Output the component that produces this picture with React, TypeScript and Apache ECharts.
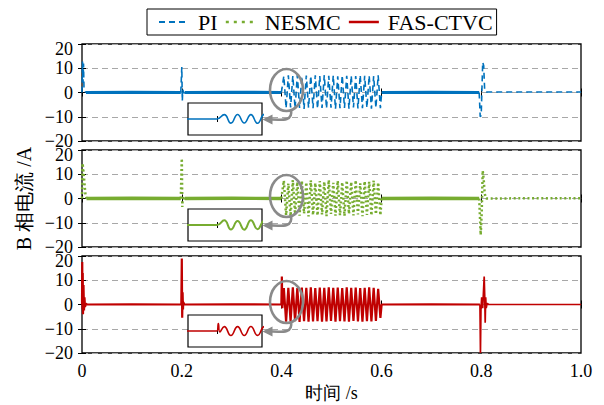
import React, { useEffect, useRef } from 'react';
import * as echarts from 'echarts';

type Pt = [number, number];

const legendNames = ['PI', 'NESMC', 'FAS-CTVC'];
const xTickValues = [0, 0.2, 0.4, 0.6, 0.8, 1.0];
const yTickValues = [-20, -10, 0, 10, 20];
const xTitle = '时间 /s';
const yTitle = 'B 相电流 /A';

// shared oscillation instants (peaks / troughs) between 0.4 s and 0.6 s
const oscT = [
  0.4045, 0.409, 0.4135, 0.418, 0.4225, 0.427, 0.4315, 0.436, 0.4405, 0.445,
  0.4495, 0.454, 0.4585, 0.463, 0.4675, 0.472, 0.4765, 0.481, 0.4855, 0.49,
  0.4945, 0.499, 0.5035, 0.508, 0.5125, 0.517, 0.5215, 0.526, 0.5305, 0.535,
  0.5395, 0.544, 0.5485, 0.553, 0.5575, 0.562, 0.5665, 0.571, 0.5755, 0.58,
  0.5845, 0.589, 0.5935, 0.598,
];

// PI
const piBefore: Pt[] = [
  [0, 0], [0.001, 12.8], [0.002, 4], [0.003, 12], [0.004, 1.5], [0.006, 0.4], [0.008, 0],
  [0.1, 0.1], [0.198, 0],
  [0.2, 10.5], [0.201, -3.5], [0.202, 1.2], [0.204, -0.3], [0.206, 0],
  [0.3, 0.1], [0.3995, 0],
];
const piOsc = [
  6.8, -6.5, 7.1, -6.2, 6.9, -6.6, 7.2, -6.4, 6.7, -6.8, 7.0, -6.3, 6.9, -6.5, 7.1,
  -6.7, 6.8, -6.4, 7.2, -6.6, 6.9, -6.3, 7.0, -6.8, 6.7, -6.5, 7.1, -6.4, 6.9, -6.7,
  7.0, -6.2, 6.8, -6.6, 7.2, -6.5, 6.9, -6.3, 7.0, -6.7, 6.8, -6.4, 7.1, -6.5,
];
const piAfter: Pt[] = [
  [0.6005, 0], [0.7, 0.1], [0.796, 0],
  [0.798, -10], [0.8, -9.5], [0.803, 12.5], [0.805, 11], [0.807, 0.6], [0.81, 0.2],
  [0.9, 0.2], [1.0, 0.2],
];

// NESMC
const nesmcBefore: Pt[] = [
  [0, 0], [0.001, 14.5], [0.002, 13], [0.003, 11], [0.005, 6], [0.007, 1.5], [0.009, 0],
  [0.1, 0.1], [0.198, 0],
  [0.2, 16.5], [0.201, -3.5], [0.202, 1], [0.204, 0], [0.206, 0],
  [0.3, 0.1], [0.3995, 0],
];
const nesmcOsc = [
  7.4, -6.9, 6.2, -7.3, 7.6, -6.5, 6.8, -7.1, 7.3, -6.2, 6.6, -7.4, 7.5, -6.8, 6.4,
  -7.0, 7.2, -6.6, 6.9, -7.3, 7.6, -6.4, 6.5, -7.1, 7.3, -6.9, 6.7, -7.2, 7.4, -6.3,
  6.8, -7.0, 7.5, -6.6, 6.3, -7.3, 7.1, -6.8, 6.9, -7.0, 7.4, -6.5, 6.6, -6.9,
];
const nesmcAfter: Pt[] = [
  [0.6005, 0], [0.7, 0.1], [0.796, 0],
  [0.799, -15], [0.801, -6], [0.803, 11.5], [0.805, 8], [0.807, 2], [0.81, 0],
  [0.9, 0.1], [1.0, 0.1],
];

// FAS-CTVC
const fasBefore: Pt[] = [
  [0, 0], [0.0005, 17.5], [0.001, -2], [0.0015, 13], [0.002, -4], [0.003, 8], [0.004, -2.5],
  [0.005, 3], [0.006, -1], [0.008, 0.4], [0.01, 0],
  [0.1, 0.1], [0.199, 0],
  [0.2, 19], [0.2008, -5.5], [0.2016, 5], [0.2024, -2], [0.203, 1], [0.205, 0],
  [0.3, 0.1], [0.3995, 0], [0.4005, 11.5], [0.4015, -1.5],
];
const fasOsc = [
  6.8, -7.1, 6.9, -7.0, 7.1, -6.9, 6.8, -7.2, 7.0, -6.9, 6.9, -7.1, 7.1, -7.0, 6.8,
  -6.9, 7.0, -7.1, 6.9, -7.0, 7.1, -6.8, 6.9, -7.1, 7.0, -6.9, 6.8, -7.0, 7.1, -7.1,
  6.9, -6.8, 7.0, -7.0, 6.8, -7.1, 6.9, -6.9, 7.1, -7.0, 6.9, -6.8, 6.5, -5.5,
];
const fasAfter: Pt[] = [
  [0.6005, 0], [0.7, 0.1], [0.7975, 0],
  [0.7985, -20], [0.7995, -2], [0.801, 3], [0.803, -1.5], [0.806, 11.5], [0.807, 4],
  [0.808, -7.5], [0.809, 3], [0.81, -1.5], [0.812, 0.5], [0.815, 0], [1.0, 0],
];

const build = (before: Pt[], osc: number[], after: Pt[]): Pt[] => [
  ...before,
  ...oscT.map((t, i) => [t, osc[i]] as Pt),
  ...after,
];

const piData = build(piBefore, piOsc, piAfter);
const nesmcData = build(nesmcBefore, nesmcOsc, nesmcAfter);
const fasData = build(fasBefore, fasOsc, fasAfter);

const BLUE = '#0072BD';
const GREEN = '#77AC30';
const RED = '#C00000';
const GREY = '#8a8a8a';
const SERIF = 'Liberation Serif';

const slice = (d: Pt[], a: number, b: number) =>
  d.filter((p) => p[0] >= a - 1e-9 && p[0] <= b + 1e-9);

export default function App() {
  const ref = useRef<HTMLDivElement>(null);

  useEffect(() => {
    if (!ref.current) return;
    const chart = echarts.init(ref.current, null, { renderer: 'svg' });

    const L = 82, W = 499, H = 97;
    const tops = [44, 150, 256];
    const insetL = 188, insetW = 74, insetH = 32, insetTop0 = 103;

    const grids: any[] = [];
    const xAxes: any[] = [];
    const yAxes: any[] = [];
    const series: any[] = [];
    const graphics: any[] = [];

    const tickStyle = { show: true, inside: true, length: 4, lineStyle: { color: '#000', width: 1 } };
    const lab = { fontFamily: SERIF, fontSize: 18, color: '#000', fontStyle: 'normal', fontWeight: 'normal' };

    tops.forEach((top, i) => {
      grids.push({
        left: L, top, width: W, height: H, show: true,
        borderColor: '#000', borderWidth: 1.3, backgroundColor: 'transparent',
      });
      const last = i === 2;
      xAxes.push({
        type: 'value', gridIndex: i, min: 0, max: 1, interval: 0.2, position: 'bottom',
        name: last ? xTitle : '', nameLocation: 'middle', nameGap: 31,
        nameTextStyle: { fontFamily: SERIF, fontSize: 18, color: '#000' },
        axisLine: { show: false }, axisTick: tickStyle,
        splitLine: { show: false },
        axisLabel: {
          show: last, margin: 9, ...lab,
          formatter: (v: number) => (v === 0 ? '0' : v.toFixed(1)),
        },
      });
      xAxes.push({
        type: 'value', gridIndex: i, min: 0, max: 1, interval: 0.2, position: 'top',
        axisLine: { show: false }, axisTick: tickStyle, splitLine: { show: false },
        axisLabel: { show: false },
      });
      yAxes.push({
        type: 'value', gridIndex: i, min: -20, max: 20, interval: 10, position: 'left',
        name: i === 1 ? yTitle : '', nameLocation: 'middle', nameGap: 48, nameRotate: 90,
        nameTextStyle: { fontFamily: SERIF, fontSize: 20, color: '#000' },
        axisLine: { show: false }, axisTick: tickStyle,
        splitLine: { show: true, lineStyle: { color: '#a8a8a8', width: 1, type: [6, 4] } },
        axisLabel: {
          show: true, margin: 9, ...lab,
          formatter: (v: number) => {
            const s = String(v).replace('-', '\u2212');
            return v === 20 ? '{t|' + s + '}' : s;
          },
          rich: { t: { ...lab, padding: [10, 0, 0, 0] } },
        },
      });
      yAxes.push({
        type: 'value', gridIndex: i, min: -20, max: 20, interval: 10, position: 'right',
        axisLine: { show: false }, axisTick: tickStyle, splitLine: { show: false },
        axisLabel: { show: false },
      });
    });

    // insets
    tops.forEach((_, k) => {
      const gi = 3 + k;
      grids.push({
        left: insetL, top: insetTop0 + 106 * k, width: insetW, height: insetH, show: true,
        borderColor: '#000', borderWidth: 1.2, backgroundColor: '#fff', z: 5,
      });
      xAxes.push({
        type: 'value', gridIndex: gi, min: 0.38, max: 0.43, position: 'bottom', z: 6,
        axisLine: { show: false },
        axisTick: { ...tickStyle, length: 3, customValues: [0.4] },
        axisLabel: { show: false }, splitLine: { show: false },
      });
      xAxes.push({
        type: 'value', gridIndex: gi, min: 0.38, max: 0.43, position: 'top', z: 6,
        axisLine: { show: false },
        axisTick: { ...tickStyle, length: 3, customValues: [0.4] },
        axisLabel: { show: false }, splitLine: { show: false },
      });
      yAxes.push({ type: 'value', gridIndex: gi, min: -25, max: 25, show: false });
      yAxes.push({ type: 'value', gridIndex: gi, min: -25, max: 25, show: false });
    });

    const mk = (name: string, data: Pt[], gi: number, color: string, type: any, width: number, z = 3, smooth: any = false) => ({
      type: 'line', name, data, xAxisIndex: gi * 2, yAxisIndex: gi * 2,
      symbol: 'none', showSymbol: false, smooth, clip: true, z,
      lineStyle: { color, type, width, cap: 'butt' }, itemStyle: { color },
      emphasis: { disabled: true },
    });

    const DASH = [6, 4];
    const DOT = [2, 2.6];

    // PI panel
    series.push(mk('PI', slice(piData, 0, 0.008), 0, BLUE, DASH, 1.6));
    series.push(mk('PI', slice(piData, 0.008, 0.198), 0, BLUE, 'solid', 3.2));
    series.push(mk('PI', slice(piData, 0.198, 0.206), 0, BLUE, DASH, 1.6));
    series.push(mk('PI', slice(piData, 0.206, 0.3995), 0, BLUE, 'solid', 3.2));
    series.push(mk('PI', slice(piData, 0.3995, 0.6005), 0, BLUE, DASH, 1.6));
    series.push(mk('PI', slice(piData, 0.6005, 0.796), 0, BLUE, 'solid', 3.2));
    series.push(mk('PI', slice(piData, 0.796, 1.0), 0, BLUE, DASH, 1.6));

    // NESMC panel
    series.push(mk('NESMC', slice(nesmcData, 0, 0.009), 1, GREEN, DOT, 2.5));
    series.push(mk('NESMC', slice(nesmcData, 0.009, 0.198), 1, GREEN, 'solid', 3.4));
    series.push(mk('NESMC', slice(nesmcData, 0.198, 0.206), 1, GREEN, DOT, 2.5));
    series.push(mk('NESMC', slice(nesmcData, 0.206, 0.3995), 1, GREEN, 'solid', 3.4));
    series.push(mk('NESMC', slice(nesmcData, 0.3995, 0.6005), 1, GREEN, DOT, 2.5));
    series.push(mk('NESMC', slice(nesmcData, 0.6005, 0.796), 1, GREEN, 'solid', 3.4));
    series.push(mk('NESMC', slice(nesmcData, 0.796, 1.0), 1, GREEN, DOT, 2.5));

    // FAS-CTVC panel
    series.push(mk('FAS-CTVC', slice(fasData, 0, 0.7975), 2, RED, 'solid', 2.2));
    series.push(mk('FAS-CTVC', slice(fasData, 0.7975, 1.0), 2, RED, 'solid', 1.7));

    // inset series (same data, zoomed axes)
    series.push(mk('PI', piData, 3, BLUE, 'solid', 1.6, 7, 0.5));
    series.push(mk('NESMC', nesmcData, 4, GREEN, 'solid', 2, 7, 0.5));
    series.push(mk('FAS-CTVC', fasData, 5, RED, 'solid', 1.6, 7, 0.5));

    // annotation circles and arrows
    for (let k = 0; k < 3; k++) {
      const dy = 106 * k;
      graphics.push({
        type: 'ellipse', z: 20,
        shape: { cx: 286.5, cy: 90 + dy, rx: 16.5, ry: 21 },
        style: { fill: 'none', stroke: GREY, lineWidth: 2.6 },
      });
      graphics.push({
        type: 'bezierCurve', z: 20,
        shape: { x1: 291, y1: 110 + dy, cpx1: 293, cpy1: 121 + dy, cpx2: 283, cpy2: 120 + dy, x2: 271, y2: 119.5 + dy },
        style: { fill: 'none', stroke: GREY, lineWidth: 2.6 },
      });
      graphics.push({
        type: 'polygon', z: 20,
        shape: { points: [[262.5, 119.5 + dy], [272.5, 114.5 + dy], [272.5, 124.5 + dy]] },
        style: { fill: GREY, stroke: 'none' },
      });
    }

    chart.setOption({
      animation: false,
      backgroundColor: '#fff',
      textStyle: { fontFamily: SERIF },
      legend: {
        left: 147, top: 9,
        padding: [2, 4, 2, 11],
        itemWidth: 30, itemHeight: 12, itemGap: 7,
        borderColor: '#000', borderWidth: 1,
        selectedMode: false,
        itemStyle: { color: 'transparent', borderWidth: 0, opacity: 0 },
        textStyle: { fontFamily: SERIF, fontSize: 22, color: '#000', padding: [0, 0, 0, 4] },
        data: [
          { name: legendNames[0], lineStyle: { color: BLUE, type: DASH, width: 2 } },
          { name: legendNames[1], lineStyle: { color: GREEN, type: [3, 5], width: 2.5 } },
          { name: legendNames[2], lineStyle: { color: RED, type: 'solid', width: 2.5 } },
        ],
      },
      grid: grids,
      xAxis: xAxes,
      yAxis: yAxes,
      series,
      graphic: graphics,
    });

    return () => chart.dispose();
  }, []);

  return (
    <div
      ref={ref}
      style={{ position: 'fixed', left: 0, top: 0, width: 604, height: 405, background: '#fff' }}
    />
  );
}
